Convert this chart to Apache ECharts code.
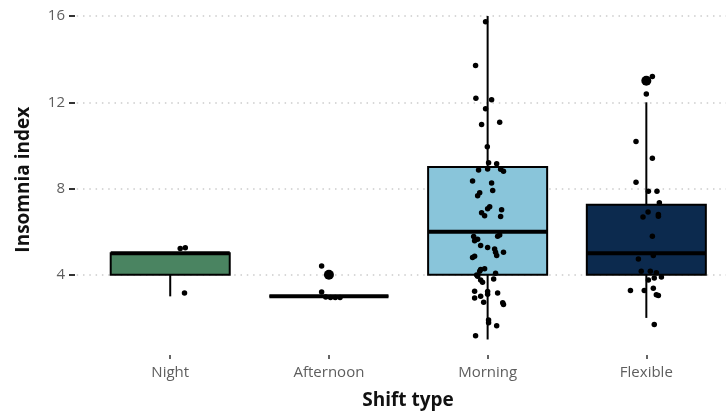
<!DOCTYPE html>
<html>
<head>
<meta charset="utf-8">
<script src="https://cdn.jsdelivr.net/npm/echarts@6/dist/echarts.min.js"></script>
<style>
  html, body { margin: 0; padding: 0; background: #fff; }
  #chart { width: 726px; height: 415px; }
</style>
</head>
<body>
<div id="chart"></div>
<script>
// Shift categories and their box fills
const categories = ['Night', 'Afternoon', 'Morning', 'Flexible'];
const boxFills = ['#4A8461', '#E8C872', '#89C5DA', '#0C2A4E'];

// Box summaries per shift: [min whisker, Q1, median, Q3, max whisker]
const boxStats = [
  [3, 4, 5, 5, 5],
  [3, 3, 3, 3, 3],
  [1, 4, 6, 9, 16],
  [2, 4, 5, 7.25, 12]
];

// Outliers per shift: [category index, value]
const outliers = [
  [1, 4],
  [3, 13]
];

// Jittered observations per shift: [horizontal offset from category centre, value]
const nightPts = [[0.063, 5.22], [0.095, 5.25], [0.09, 3.16]];
const afternoonPts = [[-0.046, 4.41], [-0.046, 3.2], [-0.02, 2.97], [0.01, 2.95], [0.04, 2.95], [0.07, 2.95]];
const morningPts = [
  [-0.013, 15.74], [-0.076, 13.71], [-0.074, 12.19], [0.025, 12.12], [-0.013, 11.7],
  [-0.038, 10.97], [0.076, 11.07], [-0.002, 9.94], [0.006, 9.2], [0.057, 9.15],
  [-0.057, 8.86], [0, 8.91], [0.082, 8.9], [0.1, 8.8], [-0.095, 8.35],
  [0.025, 8.26], [0.032, 7.91], [-0.05, 7.8], [-0.063, 7.66], [0.013, 7.16],
  [0, 7.06], [0.088, 7.02], [-0.038, 6.88], [-0.019, 6.74], [0.082, 6.7],
  [-0.088, 5.77], [-0.063, 5.65], [-0.082, 5.58], [0.063, 5.79], [0.076, 5.85],
  [-0.044, 5.36], [0, 5.27], [0.044, 5.2], [0.05, 5.05], [0.057, 4.9],
  [0.1, 5.04], [-0.095, 4.8], [-0.082, 4.86], [-0.044, 4.25], [-0.019, 4.28],
  [-0.05, 4.16], [-0.069, 3.99], [-0.063, 3.93], [0.05, 4.07], [-0.044, 3.76],
  [-0.032, 3.65], [0.038, 3.81], [-0.082, 3.24], [-0.044, 3.0], [-0.082, 2.92],
  [0, 3.22], [0, 3.1], [0.063, 3.15], [-0.025, 2.73], [0.095, 2.7],
  [0.1, 2.62], [0.006, 1.9], [0.006, 1.77], [0.057, 1.64], [-0.076, 1.17]
];
const flexiblePts = [
  [0.038, 13.2], [0, 12.38], [-0.065, 10.18], [0.038, 9.41], [-0.065, 8.29],
  [0.013, 7.88], [0.067, 7.88], [0.082, 7.34], [0.011, 6.91], [-0.021, 6.68],
  [0.076, 6.8], [0.076, 6.72], [0.038, 5.79], [-0.05, 4.73], [0.044, 4.9],
  [-0.032, 4.16], [0.025, 4.16], [0.063, 4.1], [0.095, 3.9], [0.05, 3.85],
  [0.013, 3.76], [-0.1, 3.27], [-0.013, 3.27], [0.044, 3.38], [0.063, 3.07],
  [0.076, 3.04], [0.05, 1.69]
];
const jitterGroups = [nightPts, afternoonPts, morningPts, flexiblePts];

// Axis ticks
const yTicks = [4, 8, 12, 16];
const xTicks = [1, 2, 3, 4];

const boxWidth = 0.75;
const labelFont = '"Open Sans", "Noto Sans", sans-serif';

const boxData = boxStats.map((s, i) => [i + 1].concat(s));
const pointData = [];
jitterGroups.forEach((group, i) => {
  group.forEach(p => pointData.push([i + 1 + p[0], p[1]]));
});
const outlierData = outliers.map(o => [o[0] + 1, o[1]]);

// Box, median bar and cap-less whiskers for one shift
function renderBox(params, api) {
  const x = api.value(0);
  const lo = api.coord([x, api.value(1)]);
  const q1 = api.coord([x, api.value(2)]);
  const med = api.coord([x, api.value(3)]);
  const q3 = api.coord([x, api.value(4)]);
  const hi = api.coord([x, api.value(5)]);
  const w = api.size([boxWidth, 0])[0];
  const left = q1[0] - w / 2;
  const stroke = { stroke: '#000', lineWidth: 2 };
  const children = [];
  if (lo[1] > q1[1] + 0.1) {
    children.push({ type: 'line', shape: { x1: lo[0], y1: q1[1], x2: lo[0], y2: lo[1] }, style: stroke });
  }
  if (hi[1] < q3[1] - 0.1) {
    children.push({ type: 'line', shape: { x1: hi[0], y1: q3[1], x2: hi[0], y2: hi[1] }, style: stroke });
  }
  children.push({
    type: 'rect',
    shape: { x: left, y: q3[1], width: w, height: q1[1] - q3[1] },
    style: { fill: boxFills[params.dataIndex], stroke: '#000', lineWidth: 2 }
  });
  children.push({
    type: 'line',
    shape: { x1: left, y1: med[1], x2: left + w, y2: med[1] },
    style: { stroke: '#000', lineWidth: 4 }
  });
  return { type: 'group', children: children };
}

const chart = echarts.init(document.getElementById('chart'), null, { renderer: 'canvas' });
chart.setOption({
  animation: false,
  backgroundColor: '#fff',
  grid: { left: 75, top: 4.4, right: 0, height: 353.3, containLabel: false },
  xAxis: {
    type: 'value',
    min: 0.4,
    max: 4.502,
    name: 'Shift type',
    nameLocation: 'middle',
    nameGap: 36,
    nameTextStyle: { fontFamily: labelFont, fontSize: 19, fontWeight: 'bold', color: '#111', padding: [0, 0, 0, 15] },
    axisLine: { show: false },
    axisTick: { show: true, customValues: xTicks, length: 4, lineStyle: { color: '#333', width: 1.5 } },
    axisLabel: {
      customValues: xTicks,
      margin: 10,
      fontFamily: labelFont,
      fontSize: 15,
      color: '#5e5e5e',
      formatter: v => categories[Math.round(v) - 1] || ''
    },
    splitLine: { show: false }
  },
  yAxis: {
    type: 'value',
    min: 0.28,
    max: 16.54,
    name: 'Insomnia index',
    nameLocation: 'middle',
    nameGap: 42,
    nameRotate: 90,
    nameTextStyle: { fontFamily: labelFont, fontSize: 19, fontWeight: 'bold', color: '#111' },
    axisLine: { show: false },
    axisTick: { show: true, customValues: yTicks, length: 6, lineStyle: { color: '#333', width: 2 } },
    axisLabel: { customValues: yTicks, margin: 10, fontFamily: labelFont, fontSize: 15, color: '#5e5e5e' },
    splitLine: { show: true, lineStyle: { color: '#cccccc', width: 1.5, type: [1.5, 4.8], dashOffset: -8 } }
  },
  series: [
    {
      type: 'custom',
      renderItem: renderBox,
      data: boxData,
      encode: { x: 0, y: [1, 2, 3, 4, 5] },
      z: 2
    },
    {
      type: 'scatter',
      data: outlierData,
      symbolSize: 10,
      itemStyle: { color: '#000', opacity: 1 },
      z: 3
    },
    {
      type: 'scatter',
      data: pointData,
      symbolSize: 5.5,
      itemStyle: { color: '#000', opacity: 1 },
      z: 4
    }
  ]
});
</script>
</body>
</html>
